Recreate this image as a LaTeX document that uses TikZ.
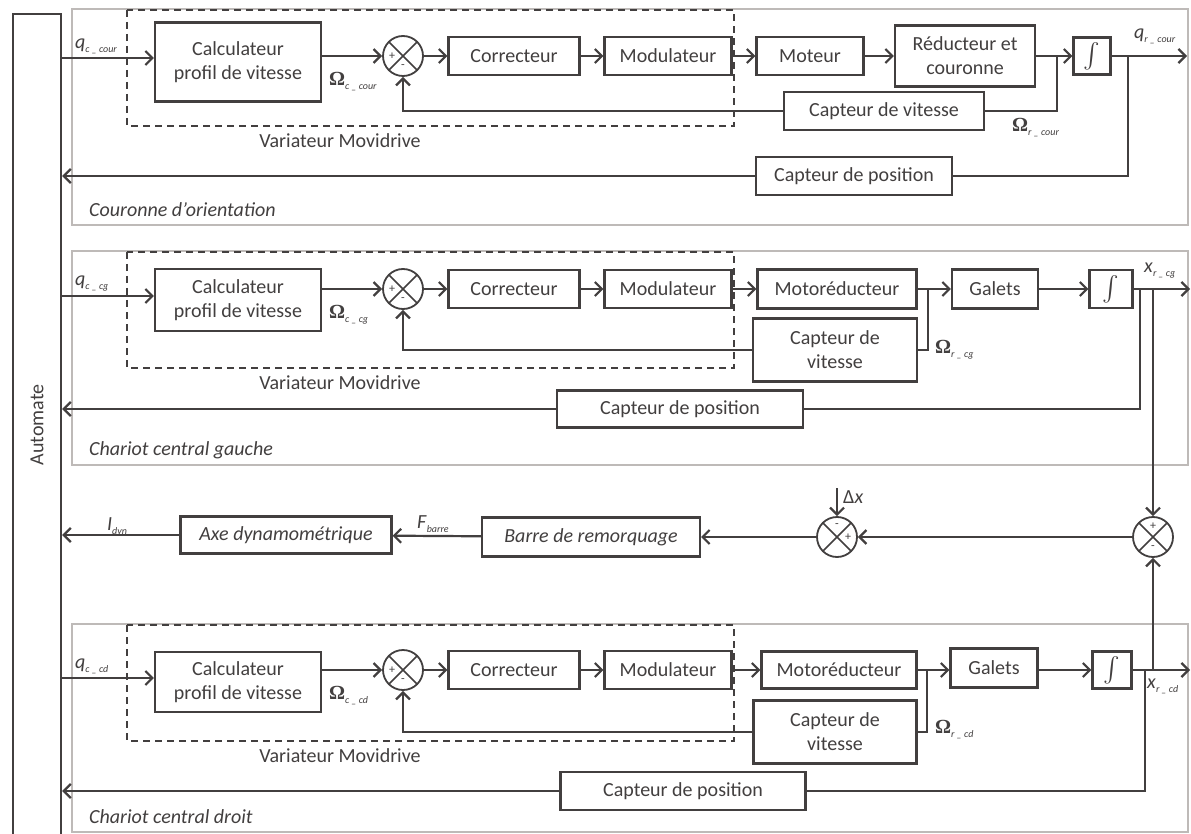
\documentclass[tikz,border=0pt]{standalone}
\usepackage{amsmath}
\usepackage{fix-cm}
\usepackage{fontspec}
\setmainfont{Carlito}
\newfontfamily\omegafont{Liberation Serif}
\usetikzlibrary{arrows.meta, positioning}

\definecolor{ink}{RGB}{66,63,63}
\definecolor{framegray}{RGB}{190,186,184}

% signal name with a small subscript
\newcommand{\sigl}[2]{#1\raisebox{-4pt}{\fontsize{10}{10}\selectfont\textit{#2}}}
\newcommand{\omg}{{\omegafont\bfseries Ω}}
\newcommand{\intg}{{\fontsize{27}{27}\selectfont$\int$}}

\tikzset{
  blk/.style={draw=ink, line width=2.2pt, rectangle, minimum height=38pt, inner sep=2pt, align=center, text=ink},
  sum/.style={circle, draw=ink, line width=1.8pt, minimum size=40pt, inner sep=0pt,
    path picture={\draw[ink, line width=1.6pt] (path picture bounding box.north west) -- (path picture bounding box.south east)
      (path picture bounding box.north east) -- (path picture bounding box.south west);}},
  sgn/.style={font=\fontsize{12}{12}\selectfont, text=ink, inner sep=0pt},
  lnk/.style={draw=ink, line width=2.2pt},
  arr/.style={lnk, -{Straight Barb[length=7pt, width=14pt]}},
  frame/.style={draw=framegray, line width=1.6pt},
  varbox/.style={draw=ink, line width=1.8pt, dash pattern=on 7pt off 5pt},
  lbl/.style={text=ink, inner sep=1pt},
}

\begin{document}
\begin{tikzpicture}[x=1pt, y=-1pt, font=\fontsize{20}{24}\selectfont]
  \path[use as bounding box, fill=white] (0,0) rectangle (1191,834);

  % automate
  \node[blk, anchor=north west, minimum width=48pt, minimum height=900pt] (aut) at (12,13) {};
  \node[lbl, rotate=90] (autlbl) at (37,425) {Automate};

  % common left part of the three axes
  \foreach \i/\ft/\fb/\ym/\cy/\ch/\sfx/\ttl in {1/9/225/56/62/79/cour/{Couronne d’orientation},
      2/251/465/289/300/62/cg/{Chariot central gauche}, 3/624/832/670/682/60/cd/{Chariot central droit}} {
    \draw[frame] (72,\ft) rectangle (1188,\fb);
    \draw[varbox] (127,\ft+1) rectangle (734,\ft+117);
    \node[lbl] (var\i) at (340,\ft+132) {Variateur Movidrive};
    \node[lbl, anchor=west] (ttl\i) at (88,\fb-15) {\textit{\ttl}};
    \node[blk, minimum width=166pt, minimum height=\ch pt] (cal\i) at (238,\cy) {Calculateur\\profil de vitesse};
    \node[sum] (sum\i) at (403,\ym) {};
    \node[sgn] (sp\i) at ([xshift=-11pt]sum\i.center) {+};
    \node[sgn] (sm\i) at ([yshift=-11pt]sum\i.center) {-};
    \node[blk, minimum width=131pt] (cor\i) at (514,\ym) {Correcteur};
    \node[blk, minimum width=127pt] (mod\i) at (668,\ym) {Modulateur};
    \coordinate (in\i) at (60,\cy-4);
    \node[lbl, anchor=west] (qc\i) at (74,\cy-16) {\sigl{\textit{q}}{c \_ \sfx}};
    \node[lbl, anchor=west] (wc\i) at (328,\ym+26) {\sigl{\omg}{c \_ \sfx}};
    \draw[arr] (in\i) -- (in\i -| cal\i.west);
    \draw[arr] (cal\i.east |- sum\i) -- (sum\i);
    \draw[arr] (sum\i) -- (cor\i);
    \draw[arr] (cor\i) -- (mod\i);
  }

  % couronne d'orientation
  \node[blk, minimum width=107pt] (mot1) at (810,56) {Moteur};
  \node[blk, minimum width=140pt, minimum height=61pt] (red1) at (965,56) {Réducteur et\\couronne};
  \node[blk, minimum width=37pt, minimum height=37pt, inner sep=0pt] (int1) at (1092,56) {\intg};
  \node[blk, minimum width=200pt] (cv1) at (884,111) {Capteur de vitesse};
  \node[blk, minimum width=196pt] (cp1) at (854,176) {Capteur de position};
  \coordinate (b1) at (1057,56);
  \coordinate (p1) at (1128,56);
  \coordinate (o1) at (1187,56);
  \draw[arr] (mod1) -- (mot1);
  \draw[arr] (mot1) -- (red1);
  \draw[arr] (red1) -- (int1);
  \draw[arr] (int1) -- (o1);
  \draw[lnk] (b1) |- (cv1.east);
  \draw[arr] (cv1.west) -| (sum1.south);
  \draw[lnk] (p1) |- (cp1.east);
  \draw[arr] (cp1.west) -- (cp1.west -| aut.east);
  \node[lbl, anchor=west] (wr1) at (1011,128) {\sigl{\omg}{r \_ cour}};
  \node[lbl, anchor=west] (qr1) at (1133,36) {\sigl{\textit{q}}{r \_ cour}};

  % chariot central gauche
  \node[blk, minimum width=159pt, minimum height=39pt] (mr2) at (837,289) {Motoréducteur};
  \node[blk, minimum width=86pt, minimum height=39pt] (gal2) at (995,289) {Galets};
  \node[blk, minimum width=43pt, inner sep=0pt] (int2) at (1111,289) {\intg};
  \node[blk, minimum width=164pt, minimum height=63pt] (cv2) at (835,350) {Capteur de\\vitesse};
  \node[blk, minimum width=246pt, minimum height=37pt] (cp2) at (680,409) {Capteur de position};
  \coordinate (b2) at (928,289);
  \coordinate (p2) at (1140,289);
  \coordinate (r2) at (1153,289);
  \coordinate (o2) at (1190,289);
  \draw[arr] (mod2) -- (mr2);
  \draw[arr] (mr2) -- (gal2);
  \draw[arr] (gal2) -- (int2);
  \draw[arr] (int2) -- (o2);
  \draw[lnk] (b2) |- (cv2.east);
  \draw[arr] (cv2.west) -| (sum2.south);
  \draw[lnk] (p2) |- (cp2.east);
  \draw[arr] (cp2.west) -- (cp2.west -| aut.east);
  \node[lbl, anchor=west] (wr2) at (934,350) {\sigl{\omg}{r \_ cg}};
  \node[lbl, anchor=west] (xr2) at (1143,271) {\sigl{\textit{x}}{r \_ cg}};

  % remorquage
  \node[sum] (sumR) at (1153,537) {};
  \node[sgn] (sRp) at ([yshift=11pt]sumR.center) {+};
  \node[sgn] (sRm) at ([yshift=-11pt]sumR.center) {-};
  \node[sum] (sumL) at (837,537) {};
  \node[sgn] (sLm) at ([yshift=11pt]sumL.center) {-};
  \node[sgn] (sLp) at ([xshift=11pt]sumL.center) {+};
  \node[blk, minimum width=218pt, minimum height=39pt] (barre) at (591,537) {\textit{Barre de remorquage}};
  \node[blk, minimum width=211pt, minimum height=37pt] (axe) at (286,535) {\textit{Axe dynamométrique}};
  \coordinate (dx) at (837,488);
  \node[lbl, anchor=west] (dxl) at (842,497) {Δ\textit{x}};
  \node[lbl, anchor=west] (fb) at (416,524) {\sigl{\textit{F}}{barre}};
  \node[lbl, anchor=west] (idyn) at (106,527) {\sigl{\textit{I}}{dyn}};
  \draw[arr] (r2) -- (sumR.north);
  \draw[arr] (dx) -- (sumL.north);
  \draw[arr] (sumR) -- (sumL);
  \draw[arr] (sumL) -- (barre);
  \draw[arr] (barre) -- (axe);
  \draw[arr] (axe.west) -- (axe.west -| aut.east);

  % chariot central droit
  \node[blk, minimum width=155pt, minimum height=37pt] (mr3) at (839,670) {Motoréducteur};
  \node[blk, minimum width=87pt, minimum height=39pt] (gal3) at (994,668) {Galets};
  \node[blk, minimum width=39pt, minimum height=37pt, inner sep=0pt] (int3) at (1112,670) {\intg};
  \node[blk, minimum width=163pt, minimum height=63pt] (cv3) at (835,732) {Capteur de\\vitesse};
  \node[blk, minimum width=245pt] (cp3) at (683,791) {Capteur de position};
  \coordinate (b3) at (927,670);
  \coordinate (p3) at (1145,670);
  \coordinate (r3) at (1153,670);
  \coordinate (o3) at (1190,670);
  \draw[arr] (mod3) -- (mr3);
  \draw[arr] (mr3.east) -- (mr3.east -| gal3.west);
  \draw[arr] (gal3.east |- int3) -- (int3);
  \draw[arr] (int3) -- (o3);
  \draw[lnk] (b3) |- (cv3.east);
  \draw[arr] (cv3.west) -| (sum3.south);
  \draw[lnk] (p3) |- (cp3.east);
  \draw[arr] (cp3.west) -- (cp3.west -| aut.east);
  \draw[arr] (r3) -- (sumR.south);
  \node[lbl, anchor=west] (wr3) at (934,730) {\sigl{\omg}{r \_ cd}};
  \node[lbl, anchor=west] (xr3) at (1146,686) {\sigl{\textit{x}}{r \_ cd}};
\end{tikzpicture}
\end{document}
